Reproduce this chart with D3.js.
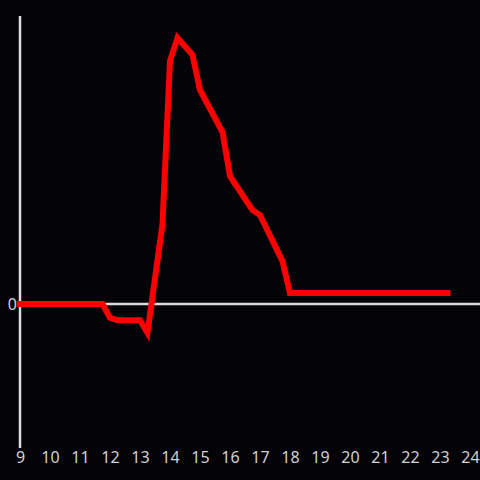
<!DOCTYPE html>
<html>
<head>
<meta charset="utf-8">
<script src="https://cdn.jsdelivr.net/npm/d3@7"></script>
<style>
  html, body { margin: 0; padding: 0; background: #040308; }
  svg { display: block; }
  text { font-family: "Noto Sans", sans-serif; font-size: 16px; fill: #d0d0d0; }
</style>
</head>
<body>
<svg id="chart"></svg>
<script>
// hours of day and values
const hours = [9, 9.25, 9.5, 9.75, 10, 10.25, 10.5, 10.75, 11, 11.25, 11.5, 11.75,
  12, 12.25, 12.5, 12.75, 13, 13.25, 13.75, 14, 14.25, 14.75, 15, 15.75, 16,
  16.75, 17, 17.75, 18, 18.5, 19, 19.5, 20, 20.5, 21, 21.5, 22, 22.5, 23, 23.25];
const values = [0, 0, 0, 0, 0, 0, 0, 0, 0, 0, 0, 0,
  -4.8, -5.6, -5.6, -5.6, -5.6, -10, 27.8, 84.4, 92.4, 86.5, 74.3, 59.7, 44.4,
  32.6, 30.9, 14.9, 3.8, 3.8, 3.8, 3.8, 3.8, 3.8, 3.8, 3.8, 3.8, 3.8, 3.8, 3.8];
const xTicks = d3.range(9, 25);

const width = 480;
const height = 480;

const svg = d3.select("#chart").attr("width", width).attr("height", height);

const x = d3.scaleLinear().domain([9, 24]).range([20, 470]);
const y = d3.scaleLinear().domain([-50, 100]).range([448, 16]);

const axisColor = "#dcdcdc";

// 竖轴
svg.append("line")
  .attr("x1", x(9)).attr("x2", x(9))
  .attr("y1", y(-50)).attr("y2", y(100))
  .attr("stroke", axisColor)
  .attr("stroke-width", 2.5);

// 零线
svg.append("line")
  .attr("x1", x(9)).attr("x2", width)
  .attr("y1", y(0)).attr("y2", y(0))
  .attr("stroke", axisColor)
  .attr("stroke-width", 2.5);

svg.append("text")
  .attr("x", x(9) - 3)
  .attr("y", y(0))
  .attr("dy", "0.35em")
  .attr("text-anchor", "end")
  .text("0");

// x 轴标签
const xAxis = svg.append("g")
  .attr("transform", `translate(0,${y(-50)})`)
  .call(d3.axisBottom(x).tickValues(xTicks).tickFormat(d3.format("d")).tickSize(0).tickPadding(4));
xAxis.select(".domain").remove();
xAxis.attr("font-size", null).attr("font-family", null);
xAxis.selectAll("text").attr("fill", null);

// 数据线
const line = d3.line()
  .x((d, i) => x(hours[i]))
  .y((d) => y(d));

svg.append("path")
  .datum(values)
  .attr("d", line)
  .attr("fill", "none")
  .attr("stroke", "#ff0000")
  .attr("stroke-width", 6)
  .attr("stroke-linecap", "square");
</script>
</body>
</html>
